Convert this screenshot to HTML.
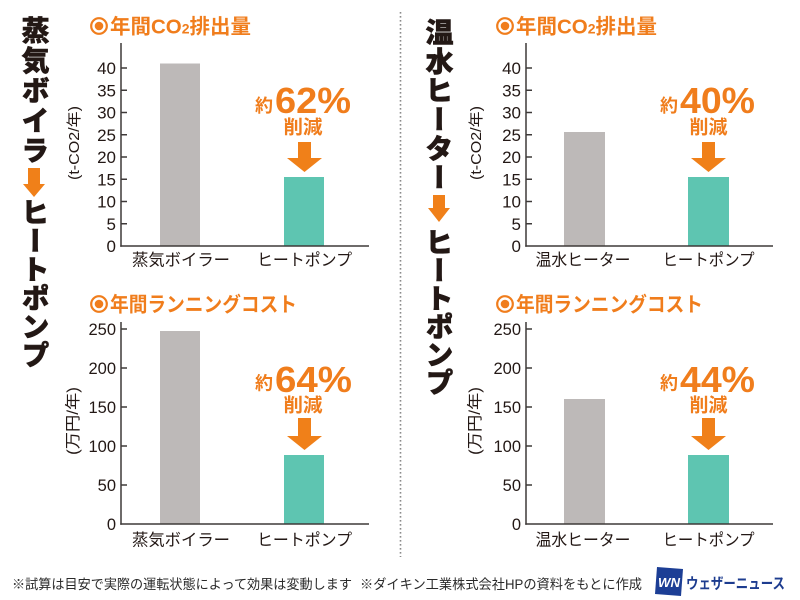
<!DOCTYPE html>
<html>
<head>
<meta charset="utf-8">
<style>
  html,body{margin:0;padding:0;background:#fff;}
  #wrap{position:relative;width:800px;height:600px;overflow:hidden;background:#fff;}
  svg{position:absolute;left:0;top:0;}
  .vt{position:absolute;writing-mode:vertical-rl;font-family:"Liberation Sans","Noto Sans CJK JP",sans-serif;font-weight:900;font-size:28px;line-height:28px;width:28px;color:#231815;white-space:nowrap;-webkit-text-stroke:0.6px #231815;}
</style>
</head>
<body>
<div id="wrap">
<svg width="800" height="600" viewBox="0 0 800 600" xmlns="http://www.w3.org/2000/svg">
  <!-- divider -->
  <line x1="400.5" y1="12" x2="400.5" y2="557" stroke="#8a8a8a" stroke-width="1.6" stroke-dasharray="1.6 2.4"/>

  <!-- vertical title arrows -->
  <polygon points="28,168 40,168 40,184 45,184 34,197 23,184 28,184" fill="#f08019"/>
  <polygon points="433,195 445,195 445,208 450,208 439,222 428,208 433,208" fill="#f08019"/>

  <g font-family="'Liberation Sans','Noto Sans CJK JP',sans-serif">
  <!-- ===== LEFT TOP ===== -->
  <circle cx="99" cy="26" r="7.8" fill="none" stroke="#f07d1c" stroke-width="2.2"/>
  <circle cx="99" cy="26" r="4.3" fill="#f07d1c"/>
  <text x="110" y="33.6" font-size="20.5" font-weight="bold" fill="#f07d1c" textLength="141" lengthAdjust="spacingAndGlyphs">年間CO<tspan font-size="14">2</tspan>排出量</text>

  <rect x="160" y="63.5" width="40" height="182.5" fill="#bdb9b8"/>
  <rect x="284" y="177" width="40" height="69" fill="#5ec5b1"/>
  <g stroke="#3e3a39" stroke-width="1.5" fill="none">
    <line x1="121" y1="43" x2="121" y2="246.75"/>
    <line x1="120.25" y1="246" x2="369" y2="246"/>
    <line x1="121" y1="223.75" x2="127" y2="223.75"/>
    <line x1="121" y1="201.5" x2="127" y2="201.5"/>
    <line x1="121" y1="179.25" x2="127" y2="179.25"/>
    <line x1="121" y1="157" x2="127" y2="157"/>
    <line x1="121" y1="134.75" x2="127" y2="134.75"/>
    <line x1="121" y1="112.5" x2="127" y2="112.5"/>
    <line x1="121" y1="90.25" x2="127" y2="90.25"/>
    <line x1="121" y1="68" x2="127" y2="68"/>
  </g>
  <g font-size="17" fill="#231815" text-anchor="end">
    <text x="116" y="252">0</text>
    <text x="116" y="229.75">5</text>
    <text x="116" y="207.5">10</text>
    <text x="116" y="185.25">15</text>
    <text x="116" y="163">20</text>
    <text x="116" y="140.75">25</text>
    <text x="116" y="118.5">30</text>
    <text x="116" y="96.25">35</text>
    <text x="116" y="74">40</text>
  </g>
  <text transform="translate(79,143) rotate(-90)" font-size="15" fill="#231815" text-anchor="middle" textLength="74" lengthAdjust="spacingAndGlyphs">(t-CO2/年)</text>
  <text x="181" y="265.5" font-size="16.5" fill="#231815" text-anchor="middle" textLength="98" lengthAdjust="spacingAndGlyphs">蒸気ボイラー</text>
  <text x="304.5" y="265.5" font-size="16.5" fill="#231815" text-anchor="middle" textLength="95" lengthAdjust="spacingAndGlyphs">ヒートポンプ</text>

  <text x="255" y="112" font-size="18" font-weight="bold" fill="#f07d1c" textLength="18" lengthAdjust="spacingAndGlyphs">約</text>
  <text x="275" y="113" font-size="36" font-weight="bold" fill="#f07d1c" textLength="76" lengthAdjust="spacingAndGlyphs">62%</text>
  <text x="303" y="133.7" font-size="19" font-weight="bold" fill="#f07d1c" text-anchor="middle" textLength="39" lengthAdjust="spacingAndGlyphs">削減</text>
  <polygon points="298,142 311,142 311,158 322,158 304.5,172 287,158 298,158" fill="#f08019"/>

  <!-- ===== LEFT BOTTOM ===== -->
  <circle cx="99" cy="304" r="7.8" fill="none" stroke="#f07d1c" stroke-width="2.2"/>
  <circle cx="99" cy="304" r="4.3" fill="#f07d1c"/>
  <text x="110" y="311.6" font-size="20.5" font-weight="bold" fill="#f07d1c" textLength="187" lengthAdjust="spacingAndGlyphs">年間ランニングコスト</text>

  <rect x="160" y="331" width="40" height="193" fill="#bdb9b8"/>
  <rect x="284" y="455" width="40" height="69" fill="#5ec5b1"/>
  <g stroke="#3e3a39" stroke-width="1.5" fill="none">
    <line x1="121" y1="322" x2="121" y2="524.75"/>
    <line x1="120.25" y1="524" x2="369" y2="524"/>
    <line x1="121" y1="485" x2="127" y2="485"/>
    <line x1="121" y1="446" x2="127" y2="446"/>
    <line x1="121" y1="407" x2="127" y2="407"/>
    <line x1="121" y1="368" x2="127" y2="368"/>
    <line x1="121" y1="329" x2="127" y2="329"/>
  </g>
  <g font-size="16.5" fill="#231815" text-anchor="end">
    <text x="116" y="530">0</text>
    <text x="116" y="491">50</text>
    <text x="116" y="452">100</text>
    <text x="116" y="413">150</text>
    <text x="116" y="374">200</text>
    <text x="116" y="335">250</text>
  </g>
  <text transform="translate(78,421) rotate(-90)" font-size="15.5" fill="#231815" text-anchor="middle" textLength="68" lengthAdjust="spacingAndGlyphs">(万円/年)</text>
  <text x="181" y="545.5" font-size="16.5" fill="#231815" text-anchor="middle" textLength="98" lengthAdjust="spacingAndGlyphs">蒸気ボイラー</text>
  <text x="304.5" y="545.5" font-size="16.5" fill="#231815" text-anchor="middle" textLength="95" lengthAdjust="spacingAndGlyphs">ヒートポンプ</text>

  <text x="255" y="389.5" font-size="18" font-weight="bold" fill="#f07d1c" textLength="18" lengthAdjust="spacingAndGlyphs">約</text>
  <text x="275" y="392" font-size="36" font-weight="bold" fill="#f07d1c" textLength="77" lengthAdjust="spacingAndGlyphs">64%</text>
  <text x="303" y="411.7" font-size="19" font-weight="bold" fill="#f07d1c" text-anchor="middle" textLength="39" lengthAdjust="spacingAndGlyphs">削減</text>
  <polygon points="298,418 311,418 311,436 322,436 304.5,450 287,436 298,436" fill="#f08019"/>

  <!-- ===== RIGHT TOP ===== -->
  <circle cx="505" cy="26" r="7.8" fill="none" stroke="#f07d1c" stroke-width="2.2"/>
  <circle cx="505" cy="26" r="4.3" fill="#f07d1c"/>
  <text x="516" y="33.6" font-size="20.5" font-weight="bold" fill="#f07d1c" textLength="141" lengthAdjust="spacingAndGlyphs">年間CO<tspan font-size="14">2</tspan>排出量</text>

  <rect x="564" y="132" width="41" height="114" fill="#bdb9b8"/>
  <rect x="688" y="177" width="41" height="69" fill="#5ec5b1"/>
  <g stroke="#3e3a39" stroke-width="1.5" fill="none">
    <line x1="526" y1="43" x2="526" y2="246.75"/>
    <line x1="525.25" y1="246" x2="773" y2="246"/>
    <line x1="526" y1="223.75" x2="532" y2="223.75"/>
    <line x1="526" y1="201.5" x2="532" y2="201.5"/>
    <line x1="526" y1="179.25" x2="532" y2="179.25"/>
    <line x1="526" y1="157" x2="532" y2="157"/>
    <line x1="526" y1="134.75" x2="532" y2="134.75"/>
    <line x1="526" y1="112.5" x2="532" y2="112.5"/>
    <line x1="526" y1="90.25" x2="532" y2="90.25"/>
    <line x1="526" y1="68" x2="532" y2="68"/>
  </g>
  <g font-size="17" fill="#231815" text-anchor="end">
    <text x="521" y="252">0</text>
    <text x="521" y="229.75">5</text>
    <text x="521" y="207.5">10</text>
    <text x="521" y="185.25">15</text>
    <text x="521" y="163">20</text>
    <text x="521" y="140.75">25</text>
    <text x="521" y="118.5">30</text>
    <text x="521" y="96.25">35</text>
    <text x="521" y="74">40</text>
  </g>
  <text transform="translate(481,143) rotate(-90)" font-size="15" fill="#231815" text-anchor="middle" textLength="74" lengthAdjust="spacingAndGlyphs">(t-CO2/年)</text>
  <text x="583" y="265.5" font-size="16.5" fill="#231815" text-anchor="middle" textLength="95" lengthAdjust="spacingAndGlyphs">温水ヒーター</text>
  <text x="708.5" y="265.5" font-size="16.5" fill="#231815" text-anchor="middle" textLength="92" lengthAdjust="spacingAndGlyphs">ヒートポンプ</text>

  <text x="660" y="112" font-size="18" font-weight="bold" fill="#f07d1c" textLength="18" lengthAdjust="spacingAndGlyphs">約</text>
  <text x="680" y="113" font-size="36" font-weight="bold" fill="#f07d1c" textLength="75" lengthAdjust="spacingAndGlyphs">40%</text>
  <text x="708.5" y="133.7" font-size="19" font-weight="bold" fill="#f07d1c" text-anchor="middle" textLength="38" lengthAdjust="spacingAndGlyphs">削減</text>
  <polygon points="702,142 715,142 715,158 726,158 708.5,172 691,158 702,158" fill="#f08019"/>

  <!-- ===== RIGHT BOTTOM ===== -->
  <circle cx="505" cy="304" r="7.8" fill="none" stroke="#f07d1c" stroke-width="2.2"/>
  <circle cx="505" cy="304" r="4.3" fill="#f07d1c"/>
  <text x="516" y="311.6" font-size="20.5" font-weight="bold" fill="#f07d1c" textLength="187" lengthAdjust="spacingAndGlyphs">年間ランニングコスト</text>

  <rect x="564" y="399" width="41" height="125" fill="#bdb9b8"/>
  <rect x="688" y="455" width="41" height="69" fill="#5ec5b1"/>
  <g stroke="#3e3a39" stroke-width="1.5" fill="none">
    <line x1="526" y1="322" x2="526" y2="524.75"/>
    <line x1="525.25" y1="524" x2="773" y2="524"/>
    <line x1="526" y1="485" x2="532" y2="485"/>
    <line x1="526" y1="446" x2="532" y2="446"/>
    <line x1="526" y1="407" x2="532" y2="407"/>
    <line x1="526" y1="368" x2="532" y2="368"/>
    <line x1="526" y1="329" x2="532" y2="329"/>
  </g>
  <g font-size="16.5" fill="#231815" text-anchor="end">
    <text x="521" y="530">0</text>
    <text x="521" y="491">50</text>
    <text x="521" y="452">100</text>
    <text x="521" y="413">150</text>
    <text x="521" y="374">200</text>
    <text x="521" y="335">250</text>
  </g>
  <text transform="translate(480,421) rotate(-90)" font-size="15.5" fill="#231815" text-anchor="middle" textLength="68" lengthAdjust="spacingAndGlyphs">(万円/年)</text>
  <text x="583" y="545.5" font-size="16.5" fill="#231815" text-anchor="middle" textLength="95" lengthAdjust="spacingAndGlyphs">温水ヒーター</text>
  <text x="708.5" y="545.5" font-size="16.5" fill="#231815" text-anchor="middle" textLength="92" lengthAdjust="spacingAndGlyphs">ヒートポンプ</text>

  <text x="660" y="389.5" font-size="18" font-weight="bold" fill="#f07d1c" textLength="18" lengthAdjust="spacingAndGlyphs">約</text>
  <text x="680" y="392" font-size="36" font-weight="bold" fill="#f07d1c" textLength="75" lengthAdjust="spacingAndGlyphs">44%</text>
  <text x="708.5" y="411.7" font-size="19" font-weight="bold" fill="#f07d1c" text-anchor="middle" textLength="38" lengthAdjust="spacingAndGlyphs">削減</text>
  <polygon points="702,418 715,418 715,436 726,436 708.5,450 691,436 702,436" fill="#f08019"/>

  <!-- ===== FOOTER ===== -->
  <text x="12" y="589" font-size="13.5" fill="#2a2a2a" textLength="340" lengthAdjust="spacingAndGlyphs">※試算は目安で実際の運転状態によって効果は変動します</text>
  <text x="360" y="589" font-size="13.5" fill="#2a2a2a" textLength="282" lengthAdjust="spacingAndGlyphs">※ダイキン工業株式会社HPの資料をもとに作成</text>

  <!-- logo -->
  <polygon points="657,567 683,569 681,596 655,594" fill="#1c3e95"/>
  <text x="669" y="587" font-size="13" font-weight="bold" font-style="italic" fill="#fff" text-anchor="middle" textLength="22" lengthAdjust="spacingAndGlyphs">WN</text>
  <text x="686" y="588.5" font-size="15" font-weight="bold" fill="#1d3c8f" textLength="99" lengthAdjust="spacingAndGlyphs">ウェザーニュース</text>
  </g>
</svg>

<!-- vertical titles -->
<div class="vt" style="left:19.5px;top:16px;letter-spacing:2px;">蒸気ボイラ</div>
<div class="vt" style="left:19.5px;top:198px;letter-spacing:0.5px;">ヒートポンプ</div>
<div class="vt" style="left:423.5px;top:18px;letter-spacing:1px;">温水ヒーター</div>
<div class="vt" style="left:423.5px;top:228px;letter-spacing:0px;">ヒートポンプ</div>
</div>
</body>
</html>
